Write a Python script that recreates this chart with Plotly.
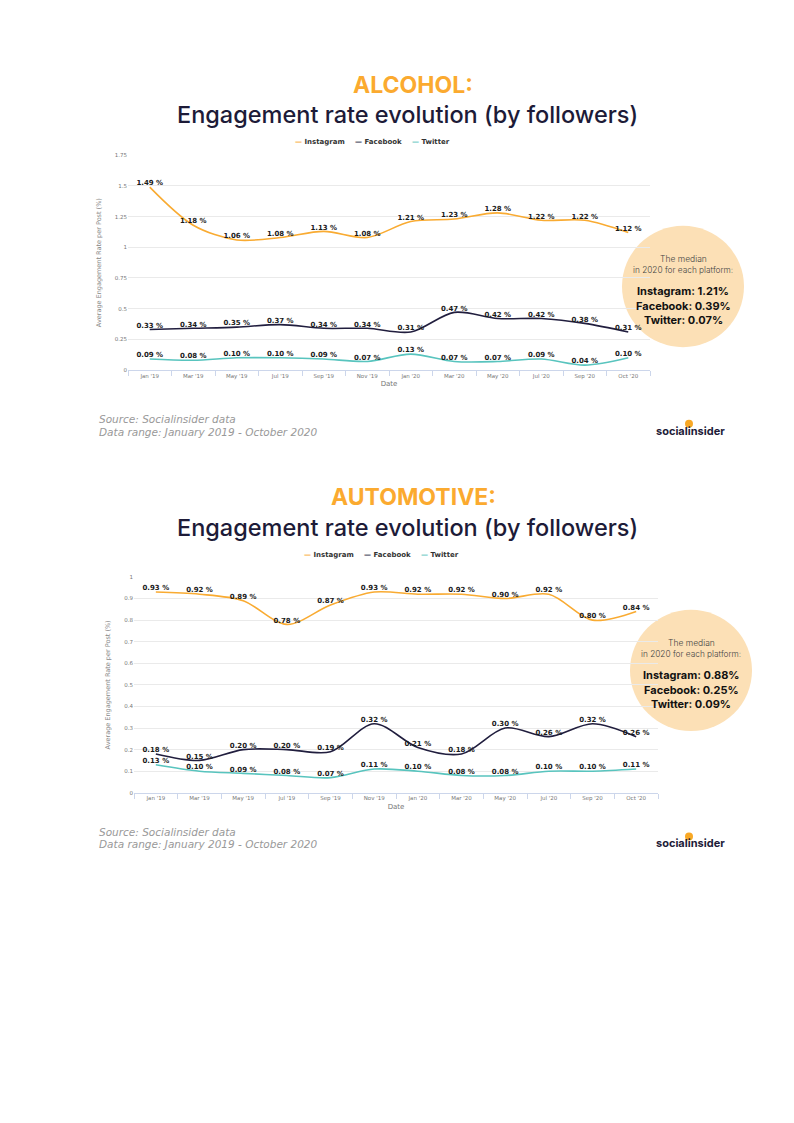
import plotly.graph_objects as go

# The page body has an 8px margin, so the figure is shifted; compensate.
OFF = 8
W, H = 794 - OFF, 1123 - OFF

def fx(p):
    return (p - OFF) / W

def fy(p):
    return 1 - (p - OFF) / H

categories = ["Jan '19", "Mar '19", "May '19", "Jul '19", "Sep '19", "Nov '19",
              "Jan '20", "Mar '20", "May '20", "Jul '20", "Sep '20", "Oct '20"]

alcohol_instagram = [1.49, 1.18, 1.06, 1.08, 1.13, 1.08, 1.21, 1.23, 1.28, 1.22, 1.22, 1.12]
alcohol_facebook = [0.33, 0.34, 0.35, 0.37, 0.34, 0.34, 0.31, 0.47, 0.42, 0.42, 0.38, 0.31]
alcohol_twitter = [0.09, 0.08, 0.10, 0.10, 0.09, 0.07, 0.13, 0.07, 0.07, 0.09, 0.04, 0.10]

auto_instagram = [0.93, 0.92, 0.89, 0.78, 0.87, 0.93, 0.92, 0.92, 0.90, 0.92, 0.80, 0.84]
auto_facebook = [0.18, 0.15, 0.20, 0.20, 0.19, 0.32, 0.21, 0.18, 0.30, 0.26, 0.32, 0.26]
auto_twitter = [0.13, 0.10, 0.09, 0.08, 0.07, 0.11, 0.10, 0.08, 0.08, 0.10, 0.10, 0.11]

series_names = ["Instagram", "Facebook", "Twitter"]
alcohol_median = ["1.21%", "0.39%", "0.07%"]
auto_median = ["0.88%", "0.25%", "0.09%"]

C_INSTA = "#F9AB32"
C_FB = "#211E3E"
C_TW = "#58C4BE"
COLORS = [C_INSTA, C_FB, C_TW]
DARK = "#1D1B38"
ORANGE_TITLE = "#FBAA2F"
PEACH = "#FCE0B6"

fig = go.Figure()

def add_series(values_list, xa, ya):
    for name, vals, col in zip(series_names, values_list, COLORS):
        fig.add_trace(go.Scatter(
            x=categories, y=vals, name=name, mode="lines+text",
            text=[f"{v:.2f} %" for v in vals], textposition="top center",
            textfont=dict(family="DejaVu Sans", size=7, color="#1A1A1A", weight="bold"),
            line=dict(color=col, width=1.6, shape="spline", smoothing=0.9),
            xaxis=xa, yaxis=ya, showlegend=False, cliponaxis=False,
            hoverinfo="skip"))

add_series([alcohol_instagram, alcohol_facebook, alcohol_twitter], "x", "y")
add_series([auto_instagram, auto_facebook, auto_twitter], "x2", "y2")

axis_common_x = dict(type="category", range=[-0.5, 11.5], showgrid=False, showline=True,
                     linecolor="#CCD6EB", linewidth=1, ticks="outside", tickson="boundaries",
                     ticklen=5, tickcolor="#CCD6EB",
                     tickfont=dict(family="DejaVu Sans", size=5.5, color="#777777"),
                     title=dict(text="Date", font=dict(family="DejaVu Sans", size=7, color="#777777"),
                                standoff=2),
                     zeroline=False, fixedrange=True)
axis_common_y = dict(showgrid=True, gridcolor="#EAEAEA", gridwidth=1, zeroline=False,
                     showline=False, ticks="",
                     tickfont=dict(family="DejaVu Sans", size=5.5, color="#777777"),
                     title=dict(text="Average Engagement Rate per Post (%)",
                                font=dict(family="DejaVu Sans", size=6.5, color="#888888"),
                                standoff=12),
                     fixedrange=True)

fig.update_layout(
    width=W, height=H, margin=dict(l=0, r=0, t=0, b=0),
    paper_bgcolor="white", plot_bgcolor="white",
    xaxis=dict(axis_common_x, domain=[fx(128), fx(650)], anchor="y"),
    yaxis=dict(axis_common_y, domain=[fy(369), fy(153)], range=[0, 1.75], dtick=0.25, anchor="x"),
    xaxis2=dict(axis_common_x, domain=[fx(134), fx(658)], anchor="y2"),
    yaxis2=dict(axis_common_y, domain=[fy(794), fy(577)], range=[0, 1], dtick=0.1, anchor="x2"),
)

annotations = []
shapes = []

def text(x, y, t, size, color, family="Inter", weight="normal", xanchor="center", style="normal"):
    annotations.append(dict(x=fx(x), y=fy(y), xref="paper", yref="paper", text=t,
                            showarrow=False, xanchor=xanchor, yanchor="middle",
                            font=dict(family=family, size=size, color=color, weight=weight, style=style)))

def block(dy, dy_circle, title, medians, cx, legend_x):
    # titles
    text(413, 82 + dy, title, 23, ORANGE_TITLE, weight="bold")
    text(407, 112 + dy, "Engagement rate evolution (by followers)", 23.5, DARK, weight=500)
    # legend
    lx = legend_x
    offsets = [0, 60, 117]
    for name, col, off in zip(series_names, COLORS, offsets):
        annotations.append(dict(
            x=fx(lx + off), y=fy(140 + dy), xref="paper", yref="paper", showarrow=False,
            xanchor="left", yanchor="middle",
            text=f"<span style='color:{col}'>—</span> {name}",
            font=dict(family="DejaVu Sans", size=7, color="#333333", weight="bold")))
    # source
    text(97, 418 + dy, "Source: Socialinsider data", 10.5, "#999999", family="DejaVu Sans",
         xanchor="left", style="italic")
    text(97, 431 + dy, "Data range: January 2019 - October 2020", 10.5, "#999999",
         family="DejaVu Sans", xanchor="left", style="italic")
    # logo
    shapes.append(dict(type="circle", xref="paper", yref="paper", layer="above",
                       x0=fx(685), x1=fx(693), y0=fy(419 + dy), y1=fy(427 + dy),
                       fillcolor="#F9A825", line=dict(width=0)))
    text(690, 430 + dy, "socialinsider", 11, DARK, weight="bold")
    # circle
    cy = 285 + dy_circle
    r = 61
    shapes.append(dict(type="circle", xref="paper", yref="paper", layer="between",
                       x0=fx(cx - r), x1=fx(cx + r), y0=fy(cy + r), y1=fy(cy - r),
                       fillcolor=PEACH, line=dict(width=0)))
    text(cx, cy - 28, "The median", 8.5, "#444444", family="Inter", weight=300)
    text(cx, cy - 17, "in 2020 for each platform:", 8.3, "#444444", family="Inter", weight=300)
    for i, (name, m) in enumerate(zip(series_names, medians)):
        text(cx, cy + 5 + i * 14.5, f"{name}: {m}", 11, "#111111", family="Inter", weight="bold")

block(0, 0, "ALCOHOL:", alcohol_median, 683, 293)
block(415, 386, "AUTOMOTIVE:", auto_median, 691, 302)

fig.update_layout(annotations=annotations, shapes=shapes)

fig.write_html("out.html")
